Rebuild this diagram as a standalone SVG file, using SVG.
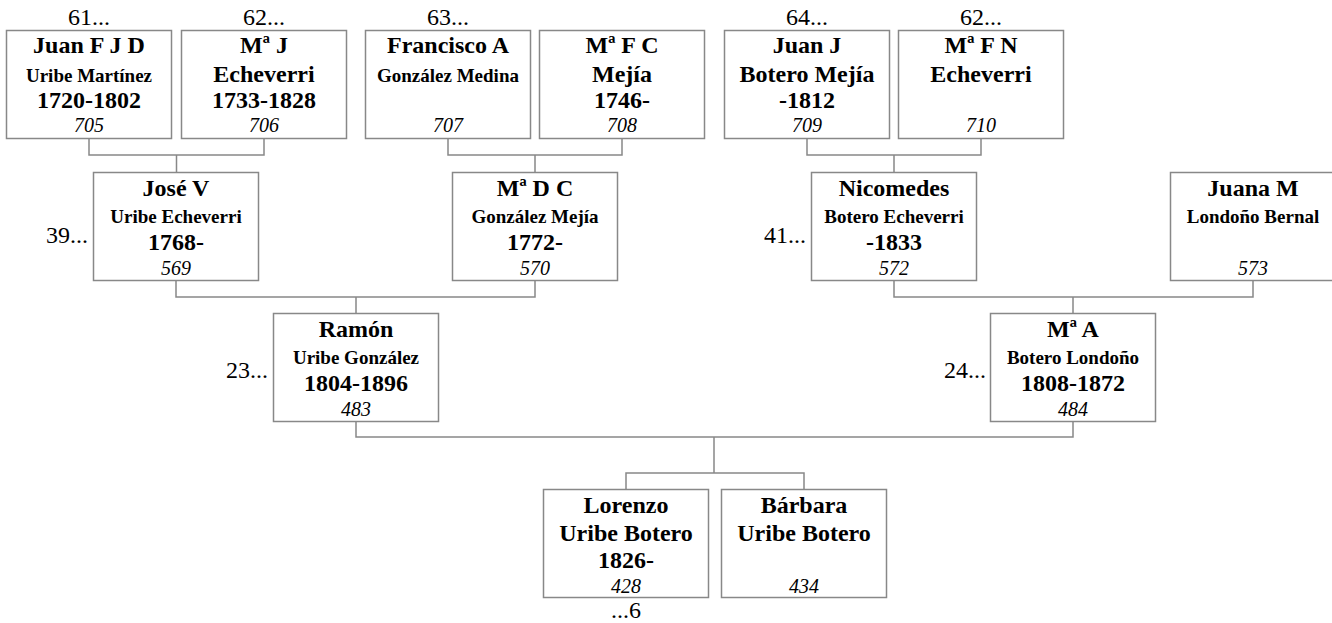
<svg xmlns="http://www.w3.org/2000/svg" width="1332" height="623" viewBox="0 0 1332 623">
<style>
.box{fill:#fff;stroke:#888;stroke-width:1.5}
.ln{fill:none;stroke:#888;stroke-width:1.5}
.t text{font-family:'Liberation Serif','Times New Roman',serif;fill:#000;text-anchor:middle}
.n{font-size:24px;font-weight:bold}
.s{font-size:19px;font-weight:bold}
.i{font-size:20px;font-style:italic}
.l{font-size:24px}
.t .le{font-size:24px;text-anchor:end}
</style>
<rect width="1332" height="623" fill="#fff"/>
<g id="connectors">
<path class="ln" d="M89,139 V155 H264 V139 M176.5,155 V172.5"/>
<path class="ln" d="M448,139 V155 H622 V139 M535,155 V172.5"/>
<path class="ln" d="M807,139 V155 H981 V139 M894,155 V172.5"/>
<path class="ln" d="M176,281 V297 H535 V281 M356,297 V313.5"/>
<path class="ln" d="M894,281 V297 H1253 V281 M1073,297 V313.5"/>
<path class="ln" d="M356,422 V437 H1073 V422 M714,437 V473 M626,489.5 V473 H804 V489.5"/>
</g>
<g class="t">
<g id="n705">
<text class="l" x="89" y="25">61...</text>
<rect class="box" x="6.5" y="30.5" width="165" height="108"/>
<text class="n" x="89" y="53">Juan F J D</text>
<text class="s" x="89" y="82">Uribe Martínez</text>
<text class="n" x="89" y="108">1720-1802</text>
<text class="i" x="89" y="132">705</text>
</g>
<g id="n706">
<text class="l" x="264" y="25">62...</text>
<rect class="box" x="181.5" y="30.5" width="165" height="108"/>
<text class="n" x="264" y="53">Mª J</text>
<text class="n" x="264" y="82">Echeverri</text>
<text class="n" x="264" y="108">1733-1828</text>
<text class="i" x="264" y="132">706</text>
</g>
<g id="n707">
<text class="l" x="448" y="25">63...</text>
<rect class="box" x="365.5" y="30.5" width="165" height="108"/>
<text class="n" x="448" y="53">Francisco A</text>
<text class="s" x="448" y="82">González Medina</text>
<text class="i" x="448" y="132">707</text>
</g>
<g id="n708">
<rect class="box" x="539.5" y="30.5" width="165" height="108"/>
<text class="n" x="622" y="53">Mª F C</text>
<text class="n" x="622" y="82">Mejía</text>
<text class="n" x="622" y="108">1746-</text>
<text class="i" x="622" y="132">708</text>
</g>
<g id="n709">
<text class="l" x="807" y="25">64...</text>
<rect class="box" x="724.5" y="30.5" width="165" height="108"/>
<text class="n" x="807" y="53">Juan J</text>
<text class="n" x="807" y="82">Botero Mejía</text>
<text class="n" x="807" y="108">-1812</text>
<text class="i" x="807" y="132">709</text>
</g>
<g id="n710">
<text class="l" x="981" y="25">62...</text>
<rect class="box" x="898.5" y="30.5" width="165" height="108"/>
<text class="n" x="981" y="53">Mª F N</text>
<text class="n" x="981" y="82">Echeverri</text>
<text class="i" x="981" y="132">710</text>
</g>
<g id="n569">
<text class="le" x="88" y="243">39...</text>
<rect class="box" x="93.5" y="172.5" width="165" height="108"/>
<text class="n" x="176" y="196">José V</text>
<text class="s" x="176" y="223">Uribe Echeverri</text>
<text class="n" x="176" y="250">1768-</text>
<text class="i" x="176" y="275">569</text>
</g>
<g id="n570">
<rect class="box" x="452.5" y="172.5" width="165" height="108"/>
<text class="n" x="535" y="196">Mª D C</text>
<text class="s" x="535" y="223">González Mejía</text>
<text class="n" x="535" y="250">1772-</text>
<text class="i" x="535" y="275">570</text>
</g>
<g id="n572">
<text class="le" x="806" y="243">41...</text>
<rect class="box" x="811.5" y="172.5" width="165" height="108"/>
<text class="n" x="894" y="196">Nicomedes</text>
<text class="s" x="894" y="223">Botero Echeverri</text>
<text class="n" x="894" y="250">-1833</text>
<text class="i" x="894" y="275">572</text>
</g>
<g id="n573">
<rect class="box" x="1170.5" y="172.5" width="165" height="108"/>
<text class="n" x="1253" y="196">Juana M</text>
<text class="s" x="1253" y="223">Londoño Bernal</text>
<text class="i" x="1253" y="275">573</text>
</g>
<g id="n483">
<text class="le" x="268" y="378">23...</text>
<rect class="box" x="273.5" y="313.5" width="165" height="108"/>
<text class="n" x="356" y="337">Ramón</text>
<text class="s" x="356" y="364">Uribe González</text>
<text class="n" x="356" y="391">1804-1896</text>
<text class="i" x="356" y="416">483</text>
</g>
<g id="n484">
<text class="le" x="986" y="378">24...</text>
<rect class="box" x="990.5" y="313.5" width="165" height="108"/>
<text class="n" x="1073" y="337">Mª A</text>
<text class="s" x="1073" y="364">Botero Londoño</text>
<text class="n" x="1073" y="391">1808-1872</text>
<text class="i" x="1073" y="416">484</text>
</g>
<g id="n428">
<rect class="box" x="543.5" y="489.5" width="165" height="108"/>
<text class="n" x="626" y="513">Lorenzo</text>
<text class="n" x="626" y="541">Uribe Botero</text>
<text class="n" x="626" y="568">1826-</text>
<text class="i" x="626" y="593">428</text>
<text class="l" x="626" y="618">...6</text>
</g>
<g id="n434">
<rect class="box" x="721.5" y="489.5" width="165" height="108"/>
<text class="n" x="804" y="513">Bárbara</text>
<text class="n" x="804" y="541">Uribe Botero</text>
<text class="i" x="804" y="593">434</text>
</g>
</g>
</svg>
